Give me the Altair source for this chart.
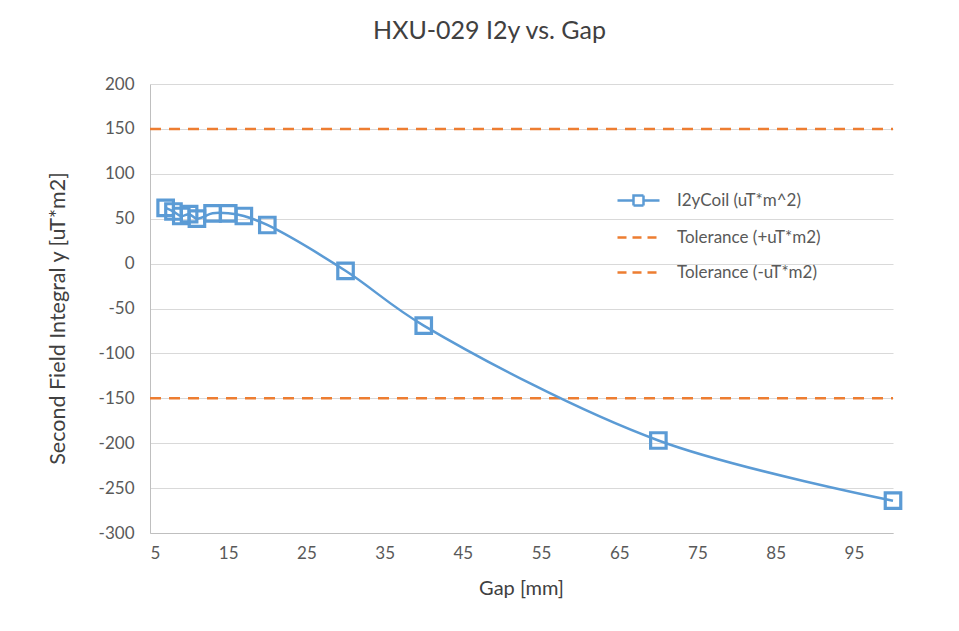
import altair as alt
import pandas as pd

# ---- data ----
gap_mm = [7, 8, 9, 10, 11, 13, 15, 17, 20, 30, 40, 70, 100]
i2y_coil = [62, 58, 53, 55, 50, 56, 56, 53, 43, -8, -69, -197, -264]

tol_gap = [5, 100]
tol_plus = [150, 150]
tol_minus = [-150, -150]

series_names = ["I2yCoil (uT*m^2)", "Tolerance (+uT*m2)", "Tolerance (-uT*m2)"]
x_ticks = [5, 15, 25, 35, 45, 55, 65, 75, 85, 95]
y_ticks = [-300, -250, -200, -150, -100, -50, 0, 50, 100, 150, 200]

BLUE = "#5B9BD5"
ORANGE = "#ED7D31"
FONT = "Lato"

coil = pd.DataFrame({"gap": gap_mm, "val": i2y_coil})
tol = pd.DataFrame({
    "gap": tol_gap + tol_gap,
    "val": tol_plus + tol_minus,
    "series": [series_names[1]] * 2 + [series_names[2]] * 2,
})
leg = pd.DataFrame({"series": series_names, "gap": [0] * 3, "val": [0] * 3})

xscale = alt.Scale(domain=[5, 100], nice=False, zero=False)
yscale = alt.Scale(domain=[-300, 200], nice=False, zero=False)

xenc = alt.X("gap:Q", scale=xscale, title="Gap [mm]",
             axis=alt.Axis(values=x_ticks, grid=False, titleX=371, titleY=55,
                           titleBaseline="middle", labelPadding=12,
                           labelExpr="'' + datum.value"))
yenc = alt.Y("val:Q", scale=yscale, title="Second Field Integral y [uT*m2]",
             axis=alt.Axis(values=y_ticks, grid=True, titleX=-92, titleY=234,
                           titleBaseline="middle", labelPadding=16,
                           labelExpr="'' + datum.value", titleFontSize=21.5))

coil_line = alt.Chart(coil).mark_line(
    color=BLUE, strokeWidth=2.5, interpolate="catmull-rom"
).encode(x=xenc, y=yenc)

coil_pts = alt.Chart(coil).mark_point(
    shape="square", size=240, filled=False, color=BLUE, strokeWidth=3.2, opacity=1
).encode(x="gap:Q", y="val:Q")

tol_lines = alt.Chart(tol).mark_line(
    color=ORANGE, strokeWidth=2.5, strokeDash=[11, 8]
).encode(x="gap:Q", y="val:Q", detail="series:N")

legend_paths = [
    "M-2.1,0H-0.5M0.5,0H2.1M-0.5,-0.5H0.5V0.5H-0.5Z",
    "M-2.1,0H2.1",
    "M-2.1,0H2.1",
]

legend_layer = alt.Chart(leg).transform_filter("false").mark_point(
    filled=False, strokeWidth=2.5, opacity=1
).encode(
    x="gap:Q", y="val:Q",
    color=alt.Color("series:N", title=None,
                    scale=alt.Scale(domain=series_names, range=[BLUE, ORANGE, ORANGE]),
                    legend=alt.Legend(orient="none", legendX=477, legendY=105,
                                      symbolSize=400, labelOffset=27, rowPadding=15,
                                      labelFontSize=17, labelColor="#595959",
                                      labelFont=FONT, symbolStrokeWidth=2.5)),
    strokeDash=alt.StrokeDash("series:N", title=None,
                              scale=alt.Scale(domain=series_names,
                                              range=[[1, 0], [9, 6], [9, 6]])),
    shape=alt.Shape("series:N", title=None,
                    scale=alt.Scale(domain=series_names, range=legend_paths)),
)

chart = alt.layer(tol_lines, coil_line, coil_pts, legend_layer).properties(
    width=743,
    height=449,
    background="white",
    autosize=alt.AutoSizeParams(type="none"),
    padding={"left": 142, "top": 76, "right": 50, "bottom": 80},
    title=alt.Title("HXU-029 I2y vs. Gap", font=FONT, fontSize=25, fontWeight="normal",
                    color="#404040", anchor="middle", frame="group", dx=-32,
                    offset=11, baseline="alphabetic"),
).configure_view(stroke=None).configure_axis(
    domainColor="#BFBFBF", domainWidth=1, gridColor="#D9D9D9", gridWidth=1,
    ticks=False, labelColor="#595959", labelFont=FONT, labelFontSize=17,
    titleColor="#404040", titleFont=FONT, titleFontSize=20, titleFontWeight="normal",
)

chart.save("out.html", embed_options={"renderer": "svg", "actions": False})
